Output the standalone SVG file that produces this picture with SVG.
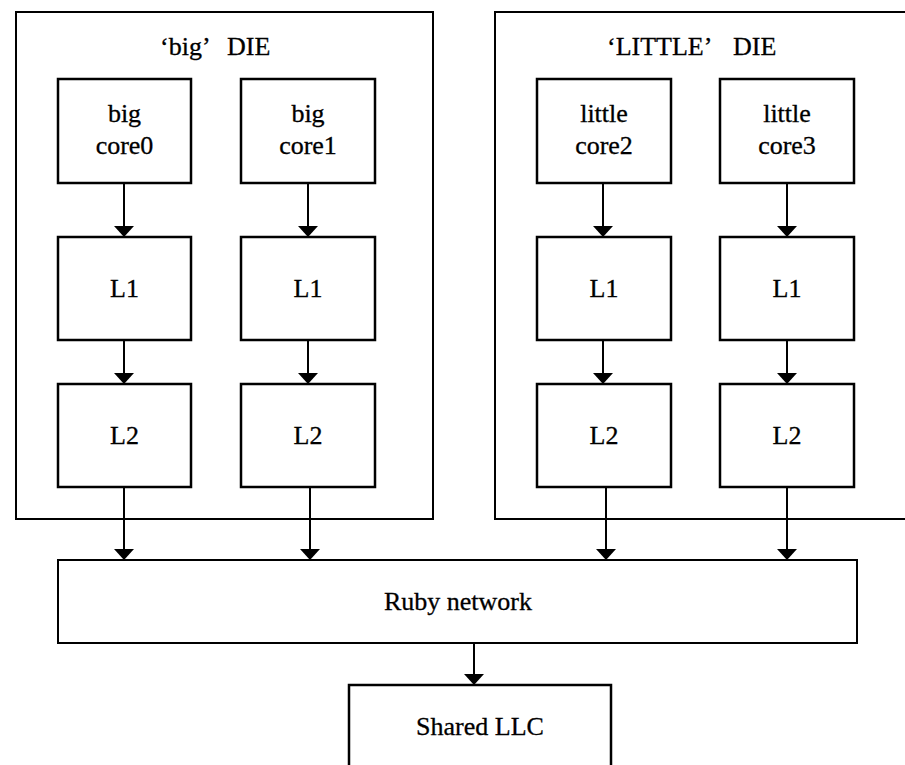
<svg xmlns="http://www.w3.org/2000/svg" width="905" height="765" viewBox="0 0 905 765">
<style>
.box{fill:#fff;stroke:#000;stroke-width:2.5}
.die{fill:none;stroke:#000;stroke-width:2}
.lbl{font-size:26px;fill:#000;stroke:#000;stroke-width:0.3;text-anchor:middle}
.ttl{font-size:26px;fill:#000;stroke:#000;stroke-width:0.3}
.con{stroke:#000;stroke-width:2;fill:none;marker-end:url(#ah)}
</style>
<defs>
<marker id="ah" viewBox="0 0 11 20" refX="11" refY="10" markerWidth="11" markerHeight="20" markerUnits="userSpaceOnUse" orient="auto">
<path d="M0,0 L11,10 L0,20 z" fill="#000"/>
</marker>
</defs>
<g font-family="Liberation Serif, DejaVu Serif, serif">
<g id="big-die">
<rect class="die" x="16" y="12" width="417" height="507"/>
<text class="ttl" x="160" y="55">‘big’<tspan x="227">DIE</tspan></text>
</g>
<g id="little-die">
<rect class="die" x="495" y="12" width="420" height="507"/>
<text class="ttl" x="607" y="55">‘LITTLE’<tspan x="733">DIE</tspan></text>
</g>
<g id="connectors">
<path class="con" d="M124,183 V237"/>
<path class="con" d="M308,183 V237"/>
<path class="con" d="M603,183 V237"/>
<path class="con" d="M787,183 V237"/>
<path class="con" d="M124,340 V384"/>
<path class="con" d="M308,340 V384"/>
<path class="con" d="M603,340 V384"/>
<path class="con" d="M787,340 V384"/>
<path class="con" d="M124,487 V560"/>
<path class="con" d="M310,487 V560"/>
<path class="con" d="M606,487 V560"/>
<path class="con" d="M787,487 V560"/>
<path class="con" d="M474,643 V685"/>
</g>
<g id="big-core0"><rect class="box" x="58" y="79" width="133" height="104"/><text class="lbl" x="124.5" y="122">big</text><text class="lbl" x="124.5" y="154">core0</text></g>
<g id="big-core1"><rect class="box" x="241" y="79" width="134" height="104"/><text class="lbl" x="308" y="122">big</text><text class="lbl" x="308" y="154">core1</text></g>
<g id="little-core2"><rect class="box" x="537" y="79" width="134" height="104"/><text class="lbl" x="604" y="122">little</text><text class="lbl" x="604" y="154">core2</text></g>
<g id="little-core3"><rect class="box" x="720" y="79" width="134" height="104"/><text class="lbl" x="787" y="122">little</text><text class="lbl" x="787" y="154">core3</text></g>
<g id="big-l1-0"><rect class="box" x="58" y="237" width="133" height="103"/><text class="lbl" x="124.5" y="297">L1</text></g>
<g id="big-l1-1"><rect class="box" x="241" y="237" width="134" height="103"/><text class="lbl" x="308" y="297">L1</text></g>
<g id="little-l1-2"><rect class="box" x="537" y="237" width="134" height="103"/><text class="lbl" x="604" y="297">L1</text></g>
<g id="little-l1-3"><rect class="box" x="720" y="237" width="134" height="103"/><text class="lbl" x="787" y="297">L1</text></g>
<g id="big-l2-0"><rect class="box" x="58" y="384" width="133" height="103"/><text class="lbl" x="124.5" y="444">L2</text></g>
<g id="big-l2-1"><rect class="box" x="241" y="384" width="134" height="103"/><text class="lbl" x="308" y="444">L2</text></g>
<g id="little-l2-2"><rect class="box" x="537" y="384" width="134" height="103"/><text class="lbl" x="604" y="444">L2</text></g>
<g id="little-l2-3"><rect class="box" x="720" y="384" width="134" height="103"/><text class="lbl" x="787" y="444">L2</text></g>
<g id="ruby-network"><rect class="die" x="58" y="560" width="799" height="83"/><text class="lbl" x="458" y="610">Ruby network</text></g>
<g id="shared-llc"><rect class="box" x="349" y="685" width="262" height="90"/><text class="lbl" x="480" y="735">Shared LLC</text></g>
</g>
</svg>
